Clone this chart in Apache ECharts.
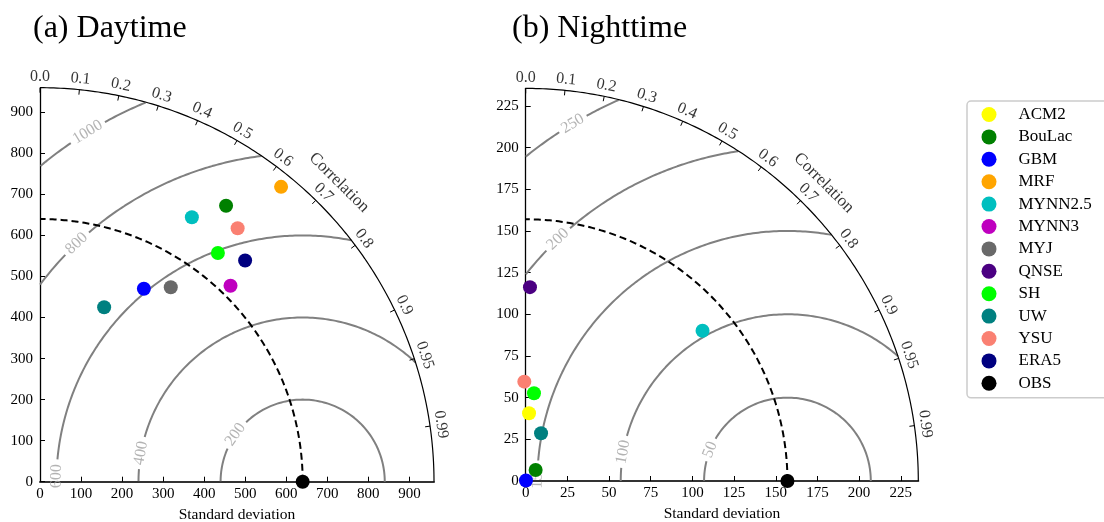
<!DOCTYPE html>
<html><head><meta charset="utf-8">
<script src="https://cdn.jsdelivr.net/npm/echarts@6/dist/echarts.min.js"></script>
<style>html,body{margin:0;padding:0;background:#fff}#c{width:1104px;height:522px}</style>
</head><body><div id="c"></div>
<script>
// ---------------- DATA ----------------
const models = ['ACM2','BouLac','GBM','MRF','MYNN2.5','MYNN3','MYJ','QNSE','SH','UW','YSU','ERA5','OBS'];
const modelColors = ['#ffff00','#008000','#0000ff','#ffa500','#00bfbf','#bf00bf','#696969','#4b0082','#00ff00','#008080','#fa8072','#000080','#000000'];
// Daytime: standard deviation and correlation per model (null = not shown)
const dayStd  = [null, 811, 534, 928, 743, 666, 571, null, 706, 453, 783, 735, 640];
const dayCorr = [null, 0.559, 0.474, 0.633, 0.498, 0.697, 0.558, null, 0.614, 0.345, 0.615, 0.680, 1.0];
// Nighttime
const nightStd  = [40.7, 8.9, 0.3, null, 139.2, null, null, 116.3, 52.9, 30.1, 59.6, null, 157];
const nightCorr = [0.049, 0.67, 0.5, null, 0.762, null, null, 0.022, 0.094, 0.306, -0.014, null, 1.0];
const corrTicks = [0.0,0.1,0.2,0.3,0.4,0.5,0.6,0.7,0.8,0.9,0.95,0.99];
const dayRms = [200, 400, 600, 800, 1000];
const nightRms = [50, 100, 150, 200, 250];
const dayRmsLabelAngle = [145, 170, 178.7, 133.5, 121.6];
const nightRmsLabelAngle = [158, 170, 179, 133.5, 121];
const dayRefStd = 640, nightRefStd = 157;
const dayTickStep = 100, nightTickStep = 25;
const titles = ['(a) Daytime', '(b) Nighttime'];

// ---------------- LAYOUT ----------------
const FONT = '"Liberation Serif", "DejaVu Serif", serif';
const panels = [
  {ref: dayRefStd, step: dayTickStep, left: 40, top: 87.7, px: 394, std: dayStd, corr: dayCorr, rms: dayRms, rmsAng: dayRmsLabelAngle, title: titles[0], titleLeft: 33},
  {ref: nightRefStd, step: nightTickStep, left: 525.7, top: 88.4, px: 392.6, std: nightStd, corr: nightCorr, rms: nightRms, rmsAng: nightRmsLabelAngle, title: titles[1], titleLeft: 512}
];

const grids = [], xAxes = [], yAxes = [], series = [], titleOpts = [];
const rad = d => d * Math.PI / 180;

panels.forEach((p, i) => {
  const R = p.ref * 1.5;
  const ppu = p.px / R;
  grids.push({left: p.left, top: p.top, width: p.px, height: p.px, containLabel: false, outerBoundsMode: 'none'});
  const axisCommon = {
    gridIndex: i, type: 'value', min: 0, max: R, interval: p.step,
    splitLine: {show: false},
    axisTick: {show: true, inside: true, length: 5, lineStyle: {color: '#000', width: 1}},
    axisLabel: {showMaxLabel: false, fontFamily: FONT, fontSize: 15, color: '#000'}
  };
  xAxes.push(Object.assign({}, axisCommon, {
    axisLine: {show: true, lineStyle: {color: '#333', width: 2}},
    axisLabel: Object.assign({}, axisCommon.axisLabel, {margin: 5}),
    name: 'Standard deviation', nameLocation: 'middle', nameGap: 25,
    nameTextStyle: {fontFamily: FONT, fontSize: 15.5, color: '#000'}
  }));
  yAxes.push(Object.assign({}, axisCommon, {
    axisLine: {show: true, lineStyle: {color: '#000', width: 1.3}},
    axisLabel: Object.assign({}, axisCommon.axisLabel, {margin: 7})
  }));
  titleOpts.push({text: p.title, left: p.titleLeft, top: 13, padding: 0, textStyle: {fontFamily: FONT, fontSize: 32, fontWeight: 'normal', color: '#000'}});

  const base = {xAxisIndex: i, yAxisIndex: i, silent: true, animation: false, clip: false};
  const lineS = (data, style, z) => Object.assign({}, base, {type: 'line', data, symbol: 'none', showSymbol: false, lineStyle: style, z: z || 2});
  const textS = (items, style, z) => Object.assign({}, base, {
    type: 'scatter', symbolSize: 1, itemStyle: {color: 'rgba(0,0,0,0)'}, z: z || 4,
    data: items.map(it => ({value: [it.x, it.y], name: it.text, label: {rotate: it.rot}})),
    label: Object.assign({show: true, position: 'inside', formatter: '{b}', fontFamily: FONT, align: 'center', verticalAlign: 'middle'}, style)
  });

  // outer arc
  const outer = [];
  for (let a = 0; a <= 90.001; a += 0.25) outer.push([R * Math.cos(rad(a)), R * Math.sin(rad(a))]);
  series.push(lineS(outer, {color: '#000', width: 1.2}, 3));

  // RMS contours
  p.rms.forEach((r, k) => {
    const la = p.rmsAng[k];
    const txt = String(r);
    const gapDeg = ((txt.length * 8) / 2 + 4) / (r * ppu) * 180 / Math.PI;
    const segs = []; let cur = [];
    for (let a = 0; a <= 180.0001; a += 0.1) {
      const x = p.ref + r * Math.cos(rad(a)), y = r * Math.sin(rad(a));
      const inside = x >= 0 && (x * x + y * y) <= R * R;
      const gap = Math.abs(a - la) < gapDeg;
      if (inside && !gap) cur.push([x, y]);
      else { if (cur.length > 1) segs.push(cur); cur = []; }
    }
    if (cur.length > 1) segs.push(cur);
    segs.forEach(s => series.push(lineS(s, {color: '#808080', width: 2}, 2)));
    series.push(textS([{x: p.ref + r * Math.cos(rad(la)), y: r * Math.sin(rad(la)), text: txt, rot: la - 90}],
      {fontSize: 16, color: '#a0a0a0'}, 3));
  });

  // reference dashed arc
  const refArc = [];
  for (let a = 0; a <= 90.001; a += 0.25) refArc.push([p.ref * Math.cos(rad(a)), p.ref * Math.sin(rad(a))]);
  series.push(lineS(refArc, {color: '#000', width: 2, type: [7, 4]}, 3));

  // correlation ticks and labels
  const tickLen = 5 / ppu, labOff = 11 / ppu;
  const labs = [];
  corrTicks.forEach(c => {
    const th = Math.acos(c);
    series.push(lineS([[R * Math.cos(th), R * Math.sin(th)], [(R - tickLen) * Math.cos(th), (R - tickLen) * Math.sin(th)]], {color: '#000', width: 1}, 3));
    labs.push({x: (R + labOff) * Math.cos(th), y: (R + labOff) * Math.sin(th), text: c === 0 ? '0.0' : String(c), rot: th * 180 / Math.PI - 90});
  });
  series.push(textS(labs, {fontSize: 16, color: '#000'}, 4));
  const cOff = 29 / ppu;
  series.push(textS([{x: (R + cOff) * Math.cos(rad(45)), y: (R + cOff) * Math.sin(rad(45)), text: 'Correlation', rot: -45}], {fontSize: 17, color: '#000'}, 4));

  // model points
  models.forEach((m, k) => {
    const s = p.std[k], c = p.corr[k];
    const data = (s === null || c === null) ? [] : [[s * c, s * Math.sin(Math.acos(c))]];
    series.push({type: 'scatter', name: m, xAxisIndex: i, yAxisIndex: i, data, symbol: 'circle', symbolSize: 14,
      itemStyle: {color: modelColors[k], opacity: 1}, clip: false, z: 10, animation: false});
  });
});

const chart = echarts.init(document.getElementById('c'), null, {renderer: 'canvas'});
chart.setOption({
  backgroundColor: '#fff',
  animation: false,
  title: titleOpts,
  grid: grids, xAxis: xAxes, yAxis: yAxes,
  legend: {
    data: models, orient: 'vertical', left: 967, top: 101,
    icon: 'circle', itemWidth: 15, itemHeight: 15, itemGap: 5.4,
    padding: [5, 20, 6, 14.5],
    borderColor: '#cccccc', borderWidth: 1.5, borderRadius: 4,
    selectedMode: false,
    textStyle: {fontFamily: FONT, fontSize: 17, color: '#000', padding: [0, 0, 0, 17]}
  },
  series
});
</script></body></html>
